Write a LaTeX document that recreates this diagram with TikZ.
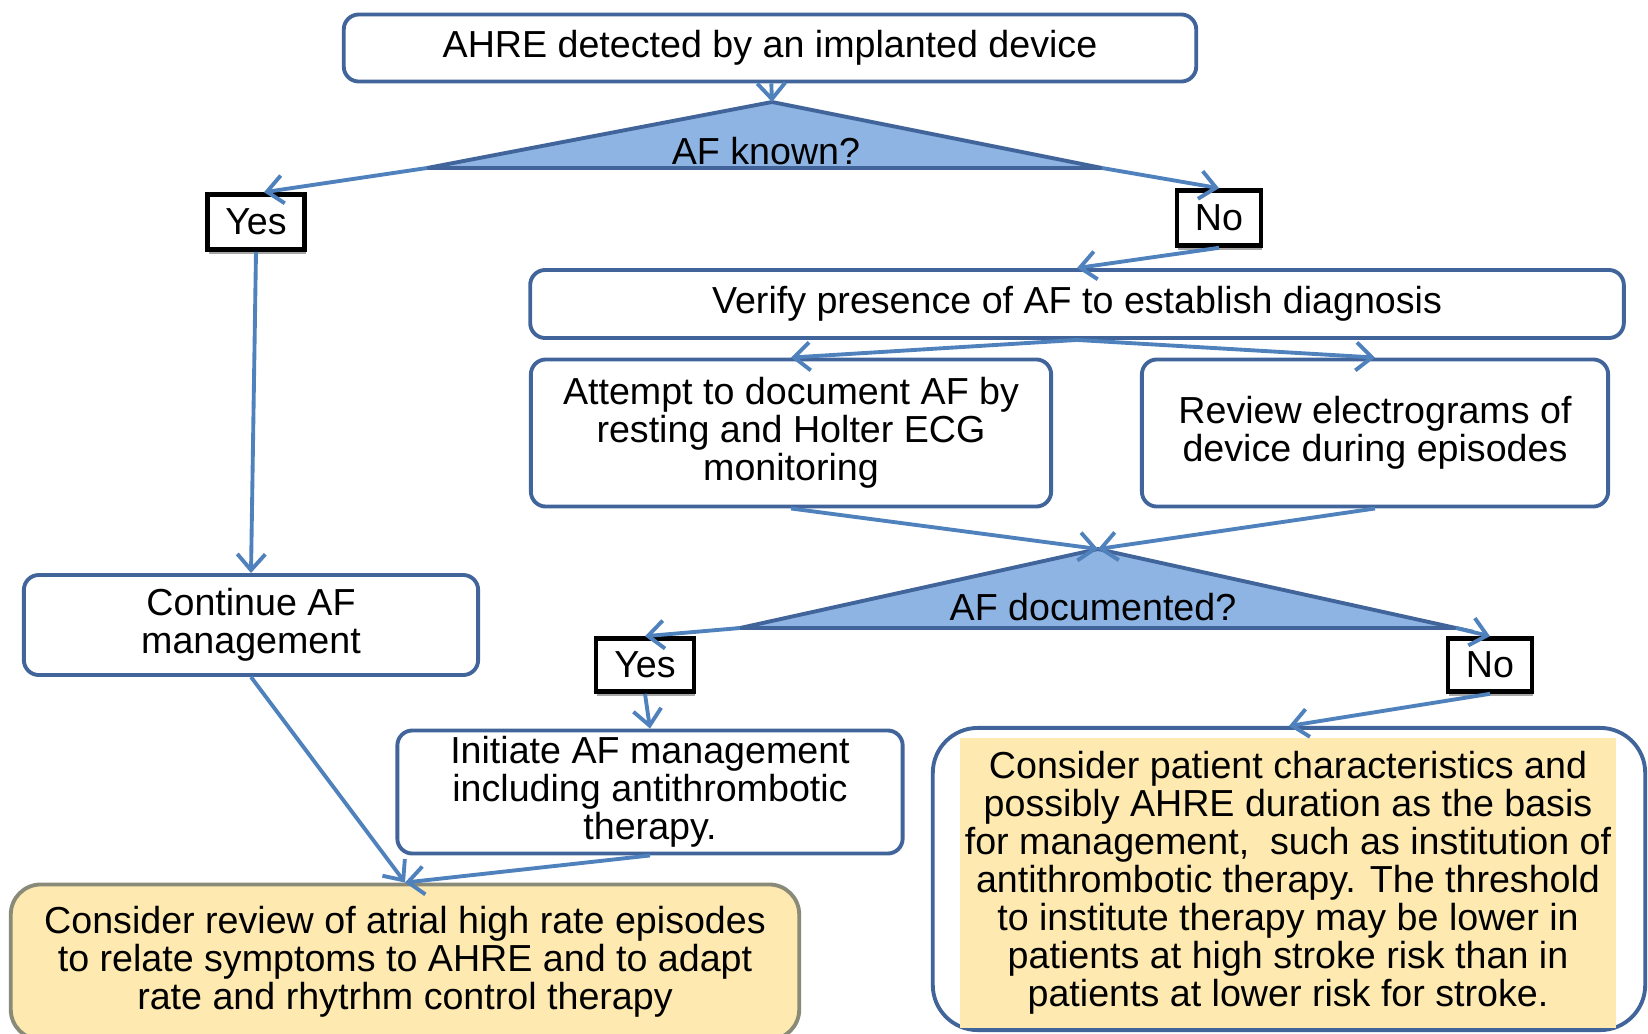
\documentclass[tikz,border=0pt]{standalone}
\usepackage{fontspec}
\setmainfont{Liberation Sans}
\usetikzlibrary{
	arrows.meta,
	positioning,
	shadows,
}
\definecolor{boxblue}{HTML}{41659A}
\definecolor{arrowblue}{HTML}{4F81BD}
\definecolor{decfill}{HTML}{8EB4E3}
\definecolor{notefill}{HTML}{FEE9B0}
\definecolor{noteline}{HTML}{8A8A78}
\tikzset{process/.style={
		% The shape:
		rectangle,rounded corners=1.5mm,
		% The border:
		line width=1.1pt,
		draw=boxblue,
		% The filling:
		fill=white,
		% make sure text aligns properly
		align=center,inner sep=0pt,
}}
\tikzset{answer/.style={
		% The shape:
		rectangle,
		% The border:
		line width=1.3pt,draw=black,fill=white,
		% a small grey shadow below
		drop shadow={shadow xshift=0.4pt,shadow yshift=-1.2pt,fill=black!35,opacity=1},
		align=center,inner sep=0pt,
}}
\tikzset{note/.style={
		% The shape:
		rectangle,rounded corners=3mm,
		% The border:
		line width=1.1pt,draw=noteline,
		% The filling:
		fill=notefill,
		align=center,inner sep=0pt,
}}
\tikzset{decision/.style={
		line width=1.1pt,draw=boxblue,fill=decfill,line join=miter,
}}

\begin{document}
\begin{tikzpicture}[x=0.01cm,y=-0.01cm,>={Straight Barb[length=1.6mm,width=2.8mm]},
	font=\fontsize{10.7}{10.8}\selectfont,
	flow/.style={->,arrowblue,line width=1.1pt}]
	\useasboundingbox (0,0) rectangle (1648,1033);
	% first question
	\node [process,minimum width=8.52cm,minimum height=0.67cm] (ahre) at (770,48) {AHRE detected by an implanted device};
	\coordinate (kapex) at (772,102);
	\coordinate (kleft) at (427,168);
	\coordinate (kright) at (1102,168);
	\draw [decision] (kapex) -- (kright) -- (kleft) -- cycle;
	\node (known) at (766,151) {AF known?};
	\node [answer,minimum width=0.97cm,minimum height=0.55cm] (yes1) at (256,222) {Yes};
	\node [answer,minimum width=0.84cm,minimum height=0.55cm] (no1) at (1219,218) {No};
	% not known: verify
	\node [process,minimum width=10.93cm,minimum height=0.68cm] (verify) at (1077,304) {Verify presence of AF to establish diagnosis};
	\node [process,minimum width=5.20cm,minimum height=1.47cm] (attempt) at (791,433) {Attempt to document AF by\\resting and Holter ECG\\monitoring};
	\node [process,minimum width=4.66cm,minimum height=1.47cm] (review) at (1375,433) {Review electrograms of\\device during episodes};
	% second question
	\coordinate (dapex) at (1098,549);
	\coordinate (dleft) at (740,628);
	\coordinate (dright) at (1456,628);
	\draw [decision] (dapex) -- (dright) -- (dleft) -- cycle;
	\node (documented) at (1093,607) {AF documented?};
	\node [answer,minimum width=0.98cm,minimum height=0.53cm] (yes2) at (645,665) {Yes};
	\node [answer,minimum width=0.84cm,minimum height=0.53cm] (no2) at (1490,665) {No};
	% outcomes
	\node [process,minimum width=4.54cm,minimum height=1.00cm] (continue) at (251,625) {Continue AF\\management};
	\node [process,minimum width=5.05cm,minimum height=1.23cm] (initiate) at (650,792) {Initiate AF management\\including antithrombotic\\therapy.};
	\node [note,minimum width=7.88cm,minimum height=1.55cm] (rhythm) at (405,962) {Consider review of atrial high rate episodes\\to relate symptoms to AHRE and to adapt\\rate and rhytrhm control therapy};
	\node [process,rounded corners=4.5mm,minimum width=7.12cm,minimum height=3.02cm] (patframe) at (1289,879) {};
	\node [fill=notefill,align=center,inner sep=0pt,minimum width=6.56cm,minimum height=2.89cm] (patient) at (1288,883) {Consider patient characteristics and\\possibly AHRE duration as the basis\\for management,\ \ such as institution of\\antithrombotic therapy. The threshold\\to institute therapy may be lower in\\patients at high stroke risk than in\\patients at lower risk for stroke.};
	% connectors
	\draw [flow] (ahre) -- (kapex);
	\draw [flow] (kleft) -- (yes1.75);
	\draw [flow] (kright) -- (no1.north);
	\draw [flow] (no1.south) -- (verify.north);
	\draw [flow] (verify.south) -- (attempt.north);
	\draw [flow] (verify.south) -- (review.north);
	\draw [flow] (attempt.south) -- (dapex);
	\draw [flow] (review.south) -- (dapex);
	\draw [flow] (dleft) -- (yes2.north);
	\draw [flow] (dright) -- (no2.north);
	\draw [flow] (yes1.south) -- (continue.north);
	\draw [flow] (yes2.south) -- (initiate.north);
	\draw [flow] (continue.south) -- (rhythm.north);
	\draw [flow] (initiate.south) -- (rhythm.north);
	\draw [flow] (no2.south) -- (patframe.north);
\end{tikzpicture}
\end{document}
